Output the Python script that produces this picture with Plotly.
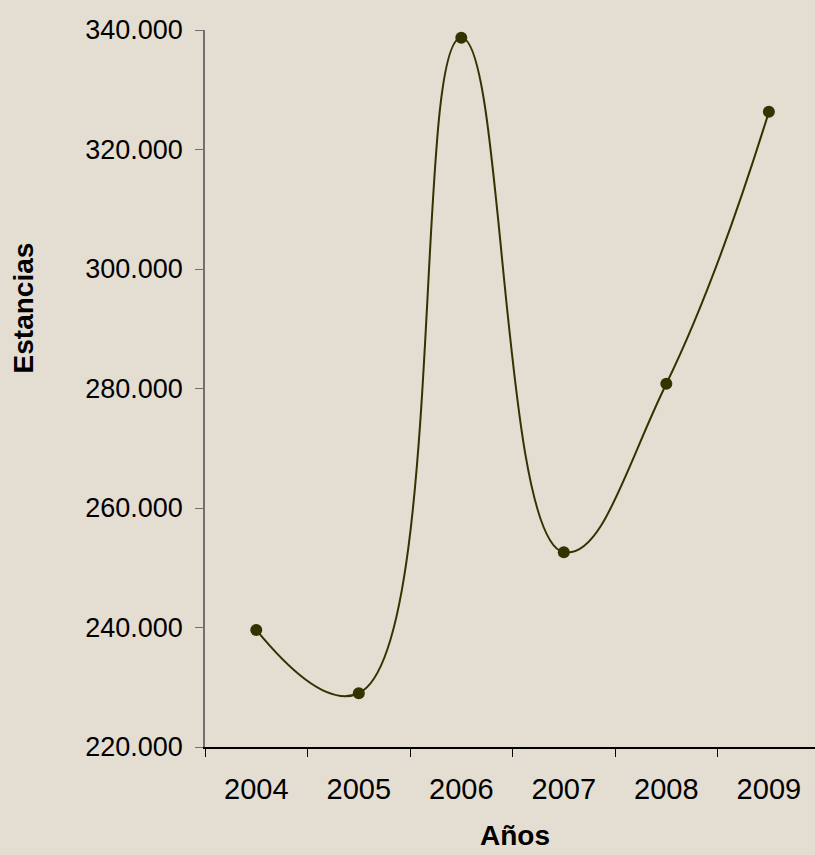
import plotly.graph_objects as go

years = ["2004", "2005", "2006", "2007", "2008", "2009"]
estancias = [239600, 229000, 338700, 252600, 280800, 326300]
y_ticks = [220000, 240000, 260000, 280000, 300000, 320000, 340000]

bg = "#E4DDD2"
line_col = "#333300"

fig = go.Figure()
fig.add_trace(go.Scatter(
    x=years, y=estancias, mode="lines+markers",
    line=dict(color=line_col, width=2, shape="spline", smoothing=1.3),
    marker=dict(color=line_col, size=12),
    showlegend=False,
))

fig.update_layout(
    width=815, height=855,
    margin=dict(l=205, r=0, t=30, b=108),
    paper_bgcolor=bg, plot_bgcolor=bg,
    separators=",.",
    font=dict(family="Liberation Sans, Arial, sans-serif", color="black", size=27),
    xaxis=dict(
        type="category", range=[-0.5, 5.45],
        showgrid=False, zeroline=False,
        showline=True, linecolor="black", linewidth=1.5,
        ticks="outside", tickson="boundaries", ticklen=8, tickcolor="black",
        tickfont=dict(size=29), ticklabelstandoff=15,
    ),
    yaxis=dict(
        range=[220000, 340000], tickvals=y_ticks, tickformat=",.0f",
        showgrid=False, zeroline=False,
        showline=True, linecolor="#707070", linewidth=1.5,
        ticks="outside", ticklen=8, tickcolor="#707070",
        tickfont=dict(size=27), ticklabelstandoff=7,
    ),
    annotations=[
        dict(text="<b>Años</b>", xref="paper", yref="paper",
             x=0.508, y=-0.123, xanchor="center", yanchor="middle",
             showarrow=False, font=dict(size=28)),
        dict(text="<b>Estancias</b>", xref="paper", yref="paper",
             x=-0.298, y=0.612, xanchor="center", yanchor="middle",
             textangle=-90, showarrow=False, font=dict(size=28)),
    ],
)

fig.write_html("out.html", config={"displayModeBar": False},
               post_script="document.body.style.margin='0';")
